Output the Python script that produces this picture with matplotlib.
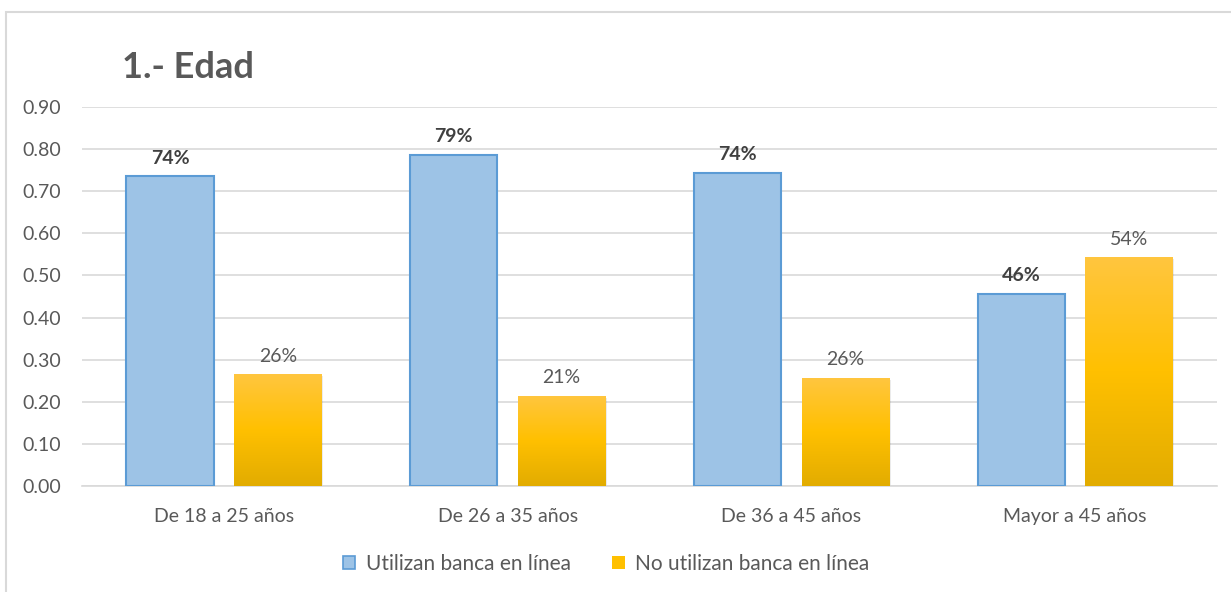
import numpy as np
import matplotlib
matplotlib.use("Agg")
import matplotlib.pyplot as plt
from matplotlib.patches import Rectangle
from matplotlib.colors import LinearSegmentedColormap

plt.rcParams['font.family'] = ['Lato', 'DejaVu Sans']

categories = ['De 18 a 25 años', 'De 26 a 35 años', 'De 36 a 45 años', 'Mayor a 45 años']
utilizan = [0.735, 0.786, 0.744, 0.457]
no_utilizan = [0.265, 0.214, 0.256, 0.543]
series_names = ['Utilizan banca en línea', 'No utilizan banca en línea']
yticks = [0.0, 0.1, 0.2, 0.3, 0.4, 0.5, 0.6, 0.7, 0.8, 0.9]

text_gray = '#595959'
grid_gray = '#d9d9d9'
blue_fill = '#9dc3e6'
blue_edge = '#5b9bd5'

fig = plt.figure(figsize=(12.31, 5.92), dpi=100)
ax = fig.add_axes([82 / 1231, 1 - 486 / 592, (1217 - 82) / 1231, (486 - 107) / 592])

# chart frame (light gray) like the Excel chart area
fig.patches.append(Rectangle((6 / 1231, -0.2), 1.2, 1.2 - 12 / 592,
                             transform=fig.transFigure, fill=False,
                             edgecolor=grid_gray, linewidth=1.5))

x = np.arange(len(categories))
w = 0.307
off = 0.19

b1 = ax.bar(x - off, utilizan, w, color=blue_fill, edgecolor=blue_edge,
            linewidth=1.5, zorder=3, label=series_names[0])
b2 = ax.bar(x + off, no_utilizan, w, color='#ffc000', linewidth=0,
            zorder=3, label=series_names[1])

# vertical gradient for the yellow bars
ycmap = LinearSegmentedColormap.from_list(
    'yel', [(0.0, '#e2ac00'), (0.5, '#ffc000'), (1.0, '#ffc63f')])
grad = np.linspace(0, 1, 256).reshape(-1, 1)
for bar in b2:
    bx, by = bar.get_x(), bar.get_y()
    bw, bh = bar.get_width(), bar.get_height()
    # soft shadow
    ax.add_patch(Rectangle((bx + 0.006, by), bw, bh - 0.004, facecolor='#000000',
                           alpha=0.08, linewidth=0, zorder=2.5))
    im = ax.imshow(grad, extent=(bx, bx + bw, by, by + bh), origin='lower',
                   cmap=ycmap, aspect='auto', zorder=3.5)
    im.set_clip_path(bar)

for bar, v in zip(b1, utilizan):
    ax.annotate(f'{v * 100:.0f}%', (bar.get_x() + bar.get_width() / 2, v),
                xytext=(0, 7), textcoords='offset points', ha='center',
                va='bottom', fontsize=14, fontweight='bold', color='#404040')
for bar, v in zip(b2, no_utilizan):
    ax.annotate(f'{v * 100:.0f}%', (bar.get_x() + bar.get_width() / 2, v),
                xytext=(0, 7), textcoords='offset points', ha='center',
                va='bottom', fontsize=14, color=text_gray)

ax.set_xlim(-0.5, len(categories) - 0.5)
ax.set_ylim(0, 0.9)
ax.set_yticks(yticks)
ax.set_yticklabels([f'{t:.2f}' for t in yticks])
ax.set_xticks(x)
ax.set_xticklabels(categories)
ax.tick_params(axis='both', length=0, labelsize=14, colors=text_gray)
ax.tick_params(axis='x', pad=16)
ax.tick_params(axis='y', pad=15)
ax.grid(axis='y', color=grid_gray, linewidth=1.2, zorder=0)
ax.set_axisbelow(True)
for s in ['top', 'right', 'left']:
    ax.spines[s].set_visible(False)
ax.spines['bottom'].set_color(grid_gray)
ax.spines['bottom'].set_linewidth(1.2)

fig.text(122 / 1231, 1 - 67 / 592, '1.- Edad', fontsize=26, fontweight='bold',
         color=text_gray, va='center', ha='left')

h1 = Rectangle((0, 0), 1, 1, facecolor=blue_fill, edgecolor=blue_edge, linewidth=1.2)
h2 = Rectangle((0, 0), 1, 1, facecolor='#ffc000', edgecolor='none')
fig.legend([h1, h2], series_names, loc='center', bbox_to_anchor=(606 / 1231, 1 - 564 / 592),
           ncol=2, frameon=False, fontsize=15, handlelength=0.6, handleheight=0.6,
           handletextpad=0.5, columnspacing=2.0, labelcolor=text_gray)

fig.savefig('out.png', dpi=100)
